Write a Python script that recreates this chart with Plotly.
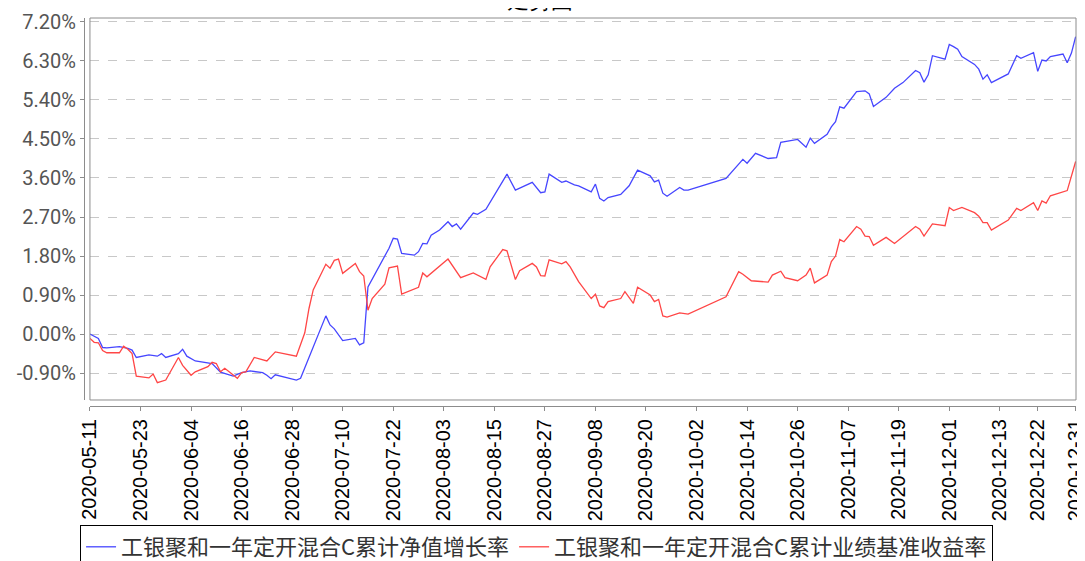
import plotly.graph_objects as go

# 累计净值增长率 (blue) - dates and values (%)
nav_dates = [
    "2020-05-11", "2020-05-13", "2020-05-14", "2020-05-15", "2020-05-18", "2020-05-20",
    "2020-05-21", "2020-05-22", "2020-05-25", "2020-05-27", "2020-05-28", "2020-05-29",
    "2020-06-01", "2020-06-02", "2020-06-03", "2020-06-05", "2020-06-09", "2020-06-10",
    "2020-06-11", "2020-06-14", "2020-06-16", "2020-06-18", "2020-06-21", "2020-06-22",
    "2020-06-23", "2020-06-24", "2020-06-26", "2020-06-29", "2020-06-30", "2020-07-06",
    "2020-07-07", "2020-07-08", "2020-07-10", "2020-07-13", "2020-07-14", "2020-07-15",
    "2020-07-16", "2020-07-20", "2020-07-21", "2020-07-22", "2020-07-23", "2020-07-24",
    "2020-07-27", "2020-07-28", "2020-07-29", "2020-07-30", "2020-07-31", "2020-08-02",
    "2020-08-04", "2020-08-05", "2020-08-06", "2020-08-07", "2020-08-10", "2020-08-11",
    "2020-08-13", "2020-08-18", "2020-08-20", "2020-08-24", "2020-08-26", "2020-08-27",
    "2020-08-28", "2020-08-31", "2020-09-01", "2020-09-03", "2020-09-04", "2020-09-07",
    "2020-09-08", "2020-09-09", "2020-09-10", "2020-09-11", "2020-09-14", "2020-09-16",
    "2020-09-18", "2020-09-21", "2020-09-22", "2020-09-23", "2020-09-24", "2020-09-25",
    "2020-09-28", "2020-09-29", "2020-09-30", "2020-10-09", "2020-10-12", "2020-10-13",
    "2020-10-14", "2020-10-16", "2020-10-19", "2020-10-21", "2020-10-22", "2020-10-26",
    "2020-10-28", "2020-10-29", "2020-10-30", "2020-11-02", "2020-11-03", "2020-11-04",
    "2020-11-05", "2020-11-06", "2020-11-09", "2020-11-11", "2020-11-12", "2020-11-13",
    "2020-11-16", "2020-11-18", "2020-11-20", "2020-11-23", "2020-11-24", "2020-11-25",
    "2020-11-26", "2020-11-27", "2020-11-30", "2020-12-01", "2020-12-02", "2020-12-03",
    "2020-12-04", "2020-12-07", "2020-12-08", "2020-12-09", "2020-12-10", "2020-12-11",
    "2020-12-15", "2020-12-17", "2020-12-18", "2020-12-21", "2020-12-22", "2020-12-23",
    "2020-12-24", "2020-12-25", "2020-12-28", "2020-12-29", "2020-12-30", "2020-12-31",
]
nav_growth = [
    0.00, -0.10, -0.31, -0.32, -0.29, -0.33,
    -0.37, -0.54, -0.48, -0.51, -0.45, -0.54,
    -0.45, -0.35, -0.51, -0.62, -0.68, -0.77,
    -0.88, -0.97, -0.89, -0.85, -0.89, -0.95,
    -1.03, -0.94, -0.99, -1.06, -1.02, 0.42,
    0.21, 0.12, -0.15, -0.10, -0.25, -0.20,
    1.09, 1.82, 1.98, 2.21, 2.19, 1.86,
    1.82, 1.90, 2.09, 2.08, 2.28, 2.40,
    2.59, 2.48, 2.54, 2.42, 2.79, 2.76,
    2.88, 3.69, 3.32, 3.50, 3.26, 3.28,
    3.69, 3.50, 3.53, 3.44, 3.42, 3.28,
    3.46, 3.13, 3.07, 3.15, 3.22, 3.42,
    3.78, 3.65, 3.51, 3.55, 3.25, 3.18,
    3.38, 3.32, 3.32, 3.59, 3.94, 4.03,
    3.94, 4.17, 4.05, 4.07, 4.42, 4.49,
    4.31, 4.52, 4.40, 4.61, 4.78, 4.90,
    5.24, 5.21, 5.59, 5.61, 5.54, 5.25,
    5.46, 5.67, 5.80, 6.08, 6.03, 5.81,
    5.98, 6.42, 6.34, 6.68, 6.63, 6.57,
    6.40, 6.22, 6.11, 5.88, 5.98, 5.80,
    6.00, 6.42, 6.36, 6.49, 6.06, 6.32,
    6.30, 6.40, 6.46, 6.26, 6.48, 6.86,
]

# 累计业绩基准收益率 (red)
bench_dates = [
    "2020-05-11", "2020-05-12", "2020-05-13", "2020-05-14", "2020-05-15", "2020-05-18",
    "2020-05-19", "2020-05-20", "2020-05-21", "2020-05-22", "2020-05-25", "2020-05-26",
    "2020-05-27", "2020-05-29", "2020-06-01", "2020-06-02", "2020-06-04", "2020-06-05",
    "2020-06-08", "2020-06-09", "2020-06-10", "2020-06-11", "2020-06-12", "2020-06-15",
    "2020-06-16", "2020-06-17", "2020-06-19", "2020-06-22", "2020-06-24", "2020-06-29",
    "2020-07-01", "2020-07-02", "2020-07-03", "2020-07-06", "2020-07-07", "2020-07-08",
    "2020-07-09", "2020-07-10", "2020-07-13", "2020-07-14", "2020-07-15", "2020-07-16",
    "2020-07-17", "2020-07-20", "2020-07-21", "2020-07-23", "2020-07-24", "2020-07-28",
    "2020-07-29", "2020-07-30", "2020-08-04", "2020-08-07", "2020-08-10", "2020-08-13",
    "2020-08-14", "2020-08-17", "2020-08-18", "2020-08-20", "2020-08-21", "2020-08-24",
    "2020-08-25", "2020-08-26", "2020-08-27", "2020-08-28", "2020-08-31", "2020-09-01",
    "2020-09-02", "2020-09-04", "2020-09-07", "2020-09-08", "2020-09-09", "2020-09-10",
    "2020-09-11", "2020-09-14", "2020-09-15", "2020-09-17", "2020-09-18", "2020-09-21",
    "2020-09-22", "2020-09-23", "2020-09-24", "2020-09-25", "2020-09-28", "2020-09-30",
    "2020-10-09", "2020-10-12", "2020-10-13", "2020-10-15", "2020-10-19", "2020-10-20",
    "2020-10-22", "2020-10-23", "2020-10-26", "2020-10-28", "2020-10-29", "2020-10-30",
    "2020-11-02", "2020-11-03", "2020-11-04", "2020-11-05", "2020-11-06", "2020-11-09",
    "2020-11-10", "2020-11-11", "2020-11-12", "2020-11-13", "2020-11-16", "2020-11-18",
    "2020-11-23", "2020-11-24", "2020-11-25", "2020-11-27", "2020-11-30", "2020-12-01",
    "2020-12-02", "2020-12-04", "2020-12-07", "2020-12-08", "2020-12-09", "2020-12-10",
    "2020-12-11", "2020-12-15", "2020-12-17", "2020-12-18", "2020-12-21", "2020-12-22",
    "2020-12-23", "2020-12-24", "2020-12-25", "2020-12-29", "2020-12-31",
]
bench_return = [
    -0.10, -0.19, -0.20, -0.38, -0.43, -0.43,
    -0.28, -0.35, -0.45, -0.97, -1.01, -0.92,
    -1.12, -1.06, -0.54, -0.72, -0.95, -0.87,
    -0.75, -0.65, -0.68, -0.87, -0.79, -1.02,
    -0.89, -0.87, -0.54, -0.62, -0.41, -0.51,
    0.03, 0.59, 1.02, 1.61, 1.52, 1.70,
    1.73, 1.40, 1.63, 1.44, 1.34, 0.55,
    0.82, 1.15, 1.53, 1.57, 0.92, 1.08,
    1.41, 1.32, 1.73, 1.30, 1.41, 1.26,
    1.55, 1.95, 1.92, 1.26, 1.46, 1.63,
    1.55, 1.35, 1.34, 1.71, 1.62, 1.67,
    1.55, 1.21, 0.82, 0.92, 0.65, 0.61,
    0.75, 0.82, 0.98, 0.71, 1.08, 0.90,
    0.75, 0.80, 0.42, 0.39, 0.49, 0.46,
    0.86, 1.44, 1.38, 1.23, 1.20, 1.36,
    1.45, 1.30, 1.23, 1.36, 1.52, 1.18,
    1.36, 1.67, 1.80, 2.18, 2.13, 2.48,
    2.42, 2.26, 2.25, 2.05, 2.23, 2.09,
    2.48, 2.42, 2.26, 2.54, 2.50, 2.92,
    2.85, 2.92, 2.80, 2.72, 2.57, 2.57,
    2.40, 2.63, 2.90, 2.85, 3.03, 2.85,
    3.07, 3.02, 3.19, 3.31, 3.98,
]

x_ticks = [
    "2020-05-11", "2020-05-23", "2020-06-04", "2020-06-16", "2020-06-28", "2020-07-10",
    "2020-07-22", "2020-08-03", "2020-08-15", "2020-08-27", "2020-09-08", "2020-09-20",
    "2020-10-02", "2020-10-14", "2020-10-26", "2020-11-07", "2020-11-19", "2020-12-01",
    "2020-12-13", "2020-12-22", "2020-12-31",
]
y_ticks = [-0.9, 0.0, 0.9, 1.8, 2.7, 3.6, 4.5, 5.4, 6.3, 7.2]
y_labels = ["-0.90%", "0.00%", "0.90%", "1.80%", "2.70%", "3.60%", "4.50%", "5.40%", "6.30%", "7.20%"]

fig = go.Figure()
fig.add_trace(go.Scatter(x=nav_dates, y=nav_growth, mode="lines",
                         name="工银聚和一年定开混合C累计净值增长率",
                         line=dict(color="#4646ff", width=1.3)))
fig.add_trace(go.Scatter(x=bench_dates, y=bench_return, mode="lines",
                         name="工银聚和一年定开混合C累计业绩基准收益率",
                         line=dict(color="#ff4646", width=1.3)))

# plot box (axes themselves sit a few pixels outside it)
fig.add_shape(type="rect", xref="x domain", yref="y domain", x0=0, x1=1, y0=0, y1=1,
              line=dict(color="#8c8c8c", width=1))

# title is mostly above the visible area in the original
fig.add_annotation(text="走势图", xref="paper", yref="paper", x=0.46, y=1.0,
                   yshift=3, showarrow=False, yanchor="bottom",
                   font=dict(size=22, color="#000000"))

# the page keeps the browser's 8px body margin, so the figure fills the rest of the window
fig.update_layout(
    width=1077, height=553,
    margin=dict(l=76, r=9, t=10, b=155),
    paper_bgcolor="white", plot_bgcolor="white",
    font=dict(family="Liberation Sans, Arial, sans-serif"),
    showlegend=True,
    legend=dict(orientation="h", xref="container", yref="container",
                x=0.0669, y=0.0651, xanchor="left", yanchor="top",
                bordercolor="#000000", borderwidth=1, bgcolor="white",
                font=dict(size=22, color="#333333", family="Noto Sans CJK SC"),
                itemwidth=30, tracegroupgap=0),
    xaxis=dict(
        type="date", domain=[0.006, 1], anchor="free", position=0,
        range=["2020-05-11", "2020-12-31 02:00"], automargin=False,
        tickvals=x_ticks, ticktext=x_ticks, tickangle=-90,
        tickfont=dict(size=20, color="#000000"), ticklabeloverflow="allow",
        showgrid=False, zeroline=False,
        showline=True, linecolor="#8c8c8c", linewidth=1,
        ticks="outside", ticklen=4, tickcolor="#8c8c8c",
    ),
    yaxis=dict(
        domain=[0.0155, 1], anchor="free", position=0,
        range=[-1.52, 7.29], automargin=False,
        tickvals=y_ticks, ticktext=y_labels,
        tickfont=dict(size=20, color="#555555", family="Roboto"),
        showgrid=True, gridcolor="#c8c8c8", griddash="dash", gridwidth=1,
        zeroline=False,
        showline=True, linecolor="#8c8c8c", linewidth=1,
        ticks="outside", ticklen=4, tickcolor="#8c8c8c",
    ),
)

fig.write_html("out.html")
